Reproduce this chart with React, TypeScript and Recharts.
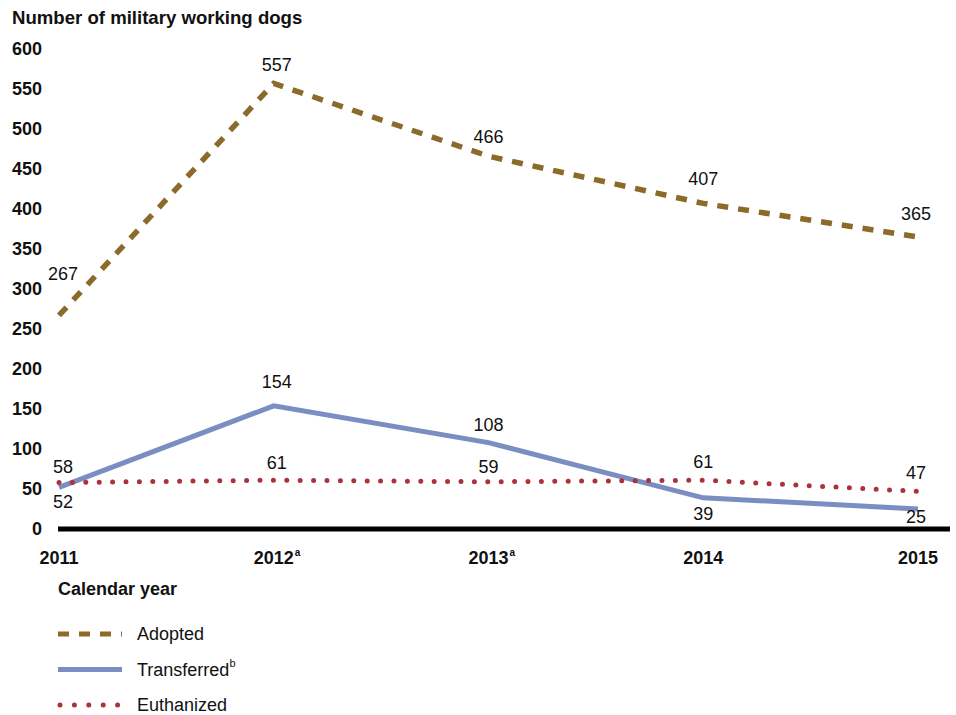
import { LineChart, Line, XAxis, YAxis, LabelList } from 'recharts';

const YEARS = ['2011', '2012', '2013', '2014', '2015'];
const YEAR_NOTES = ['', 'a', 'a', '', ''];
const ADOPTED = [267, 557, 466, 407, 365];
const TRANSFERRED = [52, 154, 108, 39, 25];
const EUTHANIZED = [58, 61, 59, 61, 47];
const Y_TICKS = [0, 50, 100, 150, 200, 250, 300, 350, 400, 450, 500, 550, 600];

const FONT = '"Liberation Sans", Arial, sans-serif';
const COLORS = {
    adopted: '#8B6A2A',
    transferred: '#7B8EC2',
    euthanized: '#AA323D',
};

// label offsets (from the point) for each year
const LABEL_DX = [4, 3, 0, 0, -2];
const ADOPTED_DY = [-41, -18, -19, -24, -23];
const TRANSFERRED_DY = [15, -24, -18, 16, 8];
const EUTHANIZED_DY = [-16, -17, -15, -18, -18];

const chartData = YEARS.map((year, i) => ({
    year,
    note: YEAR_NOTES[i],
    adopted: ADOPTED[i],
    transferred: TRANSFERRED[i],
    euthanized: EUTHANIZED[i],
}));

const makeLabel = (dys: number[]) => (props: any) => {
    const { x, y, value, index } = props;
    return (
        <text
            x={x + LABEL_DX[index]}
            y={y + dys[index]}
            textAnchor="middle"
            dominantBaseline="central"
            fontFamily={FONT}
            fontSize={18}
            fill="#111"
        >
            {value}
        </text>
    );
};

const YearTick = (props: any) => {
    const { x, y, payload, index } = props;
    const note = YEAR_NOTES[index];
    return (
        <g>
            <text x={x} y={y + 35} textAnchor="middle" fontFamily={FONT} fontSize={18} fontWeight="bold" fill="#111">
                {payload.value}
            </text>
            {note && (
                <text x={x + 21} y={y + 27} fontFamily={FONT} fontSize={10} fontWeight="bold" fill="#111">
                    {note}
                </text>
            )}
        </g>
    );
};

const LEGEND_ITEMS = [
    { key: 'adopted', label: 'Adopted', sup: '', dash: '11 10', cap: 'butt' },
    { key: 'transferred', label: 'Transferred', sup: 'b', dash: '', cap: 'butt' },
    { key: 'euthanized', label: 'Euthanized', sup: '', dash: '0 14.4', cap: 'round' },
];

const LegendBlock = () => (
    <svg width={300} height={100} style={{ position: 'absolute', left: 58, top: 615, overflow: 'visible' }}>
        {LEGEND_ITEMS.map((item, i) => {
            const cy = 19 + i * 35.5;
            return (
                <g key={item.key}>
                    <line
                        x1={item.cap === 'round' ? 2 : 0}
                        x2={64}
                        y1={cy}
                        y2={cy}
                        stroke={(COLORS as any)[item.key]}
                        strokeWidth={5}
                        strokeDasharray={item.dash || undefined}
                        strokeLinecap={item.cap as any}
                    />
                    <text x={79} y={cy} dominantBaseline="central" fontFamily={FONT} fontSize={18} fill="#111">
                        {item.label}
                        {item.sup && (
                            <tspan fontSize={11} dy={-7}>
                                {item.sup}
                            </tspan>
                        )}
                    </text>
                </g>
            );
        })}
    </svg>
);

export default function App() {
    return (
        <div
            style={{
                position: 'absolute',
                left: 0,
                top: 0,
                width: 956,
                height: 715,
                overflow: 'hidden',
                background: '#fff',
                fontFamily: FONT,
            }}
        >
            <div style={{ position: 'absolute', left: 12, top: 7, fontSize: 18.6, fontWeight: 'bold', color: '#111' }}>
                Number of military working dogs
            </div>
            <div style={{ position: 'absolute', left: 58, top: 579, fontSize: 18, fontWeight: 'bold', color: '#111' }}>
                Calendar year
            </div>
            <LineChart
                width={956}
                height={715}
                data={chartData}
                margin={{ top: 49, right: 6, bottom: 146, left: 0 }}
            >
                <XAxis
                    dataKey="year"
                    padding={{ left: 1, right: 32 }}
                    axisLine={{ stroke: '#000', strokeWidth: 5 }}
                    tickLine={false}
                    tickSize={0}
                    tickMargin={0}
                    height={40}
                    tick={<YearTick />}
                    interval={0}
                />
                <YAxis
                    domain={[0, 600]}
                    ticks={Y_TICKS}
                    interval={0}
                    axisLine={false}
                    tickLine={false}
                    width={58}
                    tickSize={0}
                    tickMargin={16}
                    tick={{ fontFamily: FONT, fontSize: 18, fontWeight: 'bold', fill: '#111' }}
                />
                <Line
                    type="linear"
                    dataKey="adopted"
                    stroke={COLORS.adopted}
                    strokeWidth={5.5}
                    strokeDasharray="11 10"
                    dot={false}
                    activeDot={false}
                    isAnimationActive={false}
                >
                    <LabelList dataKey="adopted" content={makeLabel(ADOPTED_DY)} />
                </Line>
                <Line
                    type="linear"
                    dataKey="transferred"
                    stroke={COLORS.transferred}
                    strokeWidth={5}
                    dot={false}
                    activeDot={false}
                    isAnimationActive={false}
                >
                    <LabelList dataKey="transferred" content={makeLabel(TRANSFERRED_DY)} />
                </Line>
                <Line
                    type="linear"
                    dataKey="euthanized"
                    stroke={COLORS.euthanized}
                    strokeWidth={5}
                    strokeDasharray="0 13.4"
                    strokeLinecap="round"
                    dot={false}
                    activeDot={false}
                    isAnimationActive={false}
                >
                    <LabelList dataKey="euthanized" content={makeLabel(EUTHANIZED_DY)} />
                </Line>
            </LineChart>
            <LegendBlock />
        </div>
    );
}
